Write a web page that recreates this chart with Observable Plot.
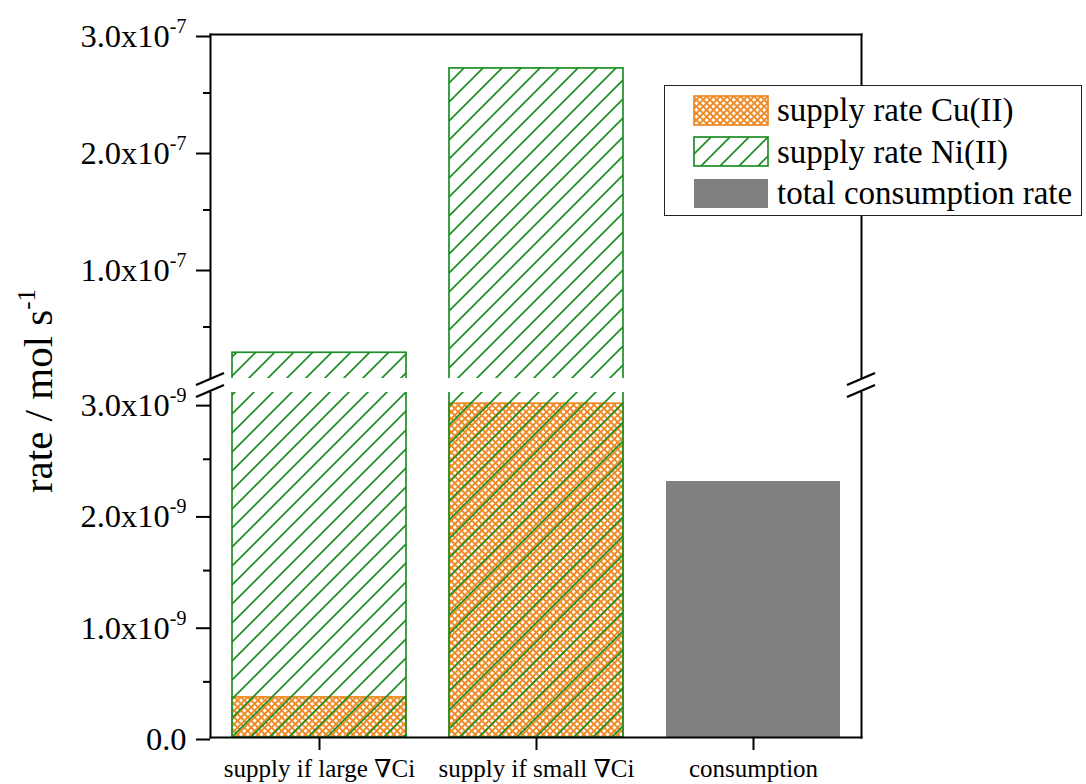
<!DOCTYPE html>
<html>
<head>
<meta charset="utf-8">
<script src="https://cdn.jsdelivr.net/npm/d3@7"></script>
<script src="https://cdn.jsdelivr.net/npm/@observablehq/plot@0.6"></script>
<style>
  html, body { margin: 0; padding: 0; background: #fff; }
  #chart { position: relative; width: 1086px; height: 784px; overflow: hidden;
           font-family: "Liberation Serif", "DejaVu Serif", "Times New Roman", serif; color: #000; }
  #chart > svg { position: absolute; left: 0; }
  #chart svg text { font-family: "Liberation Serif", "DejaVu Serif", "Times New Roman", serif; }
  #legend { position: absolute; left: 664px; top: 85px; width: 416px; height: 129px;
            border: 1.5px solid #222; background: #fff; z-index: 5; }
  .lrow { position: absolute; left: 28px; height: 30px; display: flex; align-items: center; }
  .lrow svg { display: block; }
  .lrow span { margin-left: 8px; font-size: 33px; line-height: 30px; white-space: nowrap; }
  #ylabel { position: absolute; left: 59px; top: 391px; width: 0; height: 0; z-index: 4; }
  #ylabel div { position: absolute; left: 0; top: 0; transform-origin: 0 0;
                transform: rotate(-90deg) translate(-50%, -100%); white-space: nowrap;
                font-size: 41px; line-height: 1; }
  #ylabel sup { font-size: 25px; vertical-align: 0; position: relative; top: -17px; }
</style>
</head>
<body>
<div id="chart"></div>
<script>
// ---------------- data ----------------
const categories = ["supply if large \u2207Ci", "supply if small \u2207Ci", "consumption"];
const cuSupply    = [3.6e-10, 3.0e-9, null];   // supply rate Cu(II)
const niSupply    = [2.8e-8, 2.71e-7, null];   // supply rate Ni(II)
const consumption = [null, null, 2.3e-9];      // total consumption rate
const seriesNames = ["supply rate Cu(II)", "supply rate Ni(II)", "total consumption rate"];
const lowerTicks = [0, 1e-9, 2e-9, 3e-9];
const lowerMinorTicks = [0.5e-9, 1.5e-9, 2.5e-9];
const upperTicks = [1e-7, 2e-7, 3e-7];
const upperMinorTicks = [0.5e-7, 1.5e-7, 2.5e-7];
const lowerDomain = [0, 3.1e-9];
const upperDomain = [6e-9, 3.0e-7];
const yLabel = "rate / mol s";
const yLabelExp = "-1";

// ---------------- styles ----------------
const orange = "#EE8A24";
const green = "#1E8E26";
const grey = "#808080";
const W = 1086, marginLeft = 210, marginRight = 225;
const serif = "Liberation Serif, DejaVu Serif, Times New Roman, serif";
const NS = "http://www.w3.org/2000/svg";

const chart = document.getElementById("chart");

// pattern definitions (shared by all SVGs in the document)
const defsSvg = document.createElementNS(NS, "svg");
defsSvg.setAttribute("width", 0); defsSvg.setAttribute("height", 0);
defsSvg.style.position = "absolute";
defsSvg.innerHTML = `
<defs>
  <pattern id="hatchNi" patternUnits="userSpaceOnUse" width="19" height="19">
    <path d="M-3,3 L3,-3 M0,19 L19,0 M16,22 L22,16" stroke="${green}" stroke-width="1.7" fill="none"/>
  </pattern>
  <pattern id="hatchCu" patternUnits="userSpaceOnUse" width="4.8" height="4.8" patternTransform="rotate(45)">
    <rect x="0" y="0" width="4.8" height="1.9" fill="${orange}"/>
    <rect x="0" y="0" width="1.9" height="4.8" fill="${orange}"/>
  </pattern>
</defs>`;
chart.appendChild(defsSvg);

const table = categories.map((c, i) => ({category: c, cu: cuSupply[i], ni: niSupply[i], total: consumption[i]}));
const xOpts = {domain: categories, paddingInner: 0.2, paddingOuter: 0.1};

function superscripts(svg, size, shift) {
  svg.querySelectorAll("text").forEach(t => {
    const s = t.textContent;
    if (s.includes("^")) {
      const [base, exp] = s.split("^");
      t.textContent = base;
      const ts = document.createElementNS(NS, "tspan");
      ts.setAttribute("dy", shift);
      ts.setAttribute("font-size", size);
      ts.textContent = exp;
      t.appendChild(ts);
    }
  });
}

const fmtLower = d => d === 0 ? "0.0" : (d / 1e-9).toFixed(1) + "x10^-9";
const fmtUpper = d => (d / 1e-7).toFixed(1) + "x10^-7";

// ---------------- upper panel ----------------
const upper = Plot.plot({
  width: W, height: 390,
  marginTop: 34, marginBottom: 12, marginLeft, marginRight,
  style: {fontFamily: serif, background: "transparent", color: "#000", overflow: "visible"},
  x: {...xOpts, axis: null},
  y: {domain: upperDomain, axis: null},
  marks: [
    Plot.barY(table.filter(d => d.ni != null), {x: "category", y: "ni", fill: "url(#hatchNi)", stroke: green, strokeWidth: 1.7, clip: true}),
    Plot.axisY(upperTicks, {tickSize: 14, tickPadding: 10, tickFormat: fmtUpper, fontSize: 32.5, strokeWidth: 2, dy: 2, label: null}),
    Plot.axisY(upperMinorTicks, {tickSize: 7, tickFormat: () => "", strokeWidth: 2, label: null}),
    Plot.frame({anchor: "left", strokeWidth: 2}),
    Plot.frame({anchor: "right", strokeWidth: 2}),
    Plot.frame({anchor: "top", strokeWidth: 2})
  ]
});
upper.style.top = "0px";
superscripts(upper, 20, -14);
chart.appendChild(upper);

// ---------------- lower panel ----------------
const lowerTop = 380;
const lower = Plot.plot({
  width: W, height: 404,
  marginTop: 12, marginBottom: 47, marginLeft, marginRight,
  style: {fontFamily: serif, background: "transparent", color: "#000", overflow: "visible"},
  x: {...xOpts, label: null},
  y: {domain: lowerDomain, axis: null},
  marks: [
    Plot.barY(table.filter(d => d.cu != null), {x: "category", y: "cu", fill: "url(#hatchCu)", stroke: orange, strokeWidth: 1.7, clip: true}),
    Plot.barY(table.filter(d => d.ni != null), {x: "category", y: "ni", fill: "url(#hatchNi)", stroke: green, strokeWidth: 1.7, clip: true}),
    Plot.barY(table.filter(d => d.total != null), {x: "category", y: "total", fill: grey}),
    Plot.axisY(lowerTicks, {tickSize: 14, tickPadding: 10, tickFormat: fmtLower, fontSize: 32.5, strokeWidth: 2, dy: 2, label: null}),
    Plot.axisY(lowerMinorTicks, {tickSize: 7, tickFormat: () => "", strokeWidth: 2, label: null}),
    Plot.axisX({tickSize: 13, tickPadding: 9, fontSize: 25, strokeWidth: 2, label: null}),
    Plot.frame({anchor: "left", strokeWidth: 2}),
    Plot.frame({anchor: "right", strokeWidth: 2}),
    Plot.frame({anchor: "bottom", strokeWidth: 2})
  ]
});
lower.style.top = lowerTop + "px";
superscripts(lower, 20, -14);
chart.appendChild(lower);

// ---------------- overlay: axis breaks ----------------
const upY = upper.scale("y").apply(upperDomain[0]);            // bottom edge of upper panel
const loY = lowerTop + lower.scale("y").apply(lowerDomain[1]); // top edge of lower panel
const xL = upper.scale("x").range[0], xR = upper.scale("x").range[1];
const ov = document.createElementNS(NS, "svg");
ov.setAttribute("width", W); ov.setAttribute("height", 784);
ov.style.top = "0px"; ov.style.zIndex = 3; ov.style.pointerEvents = "none";
let g = "";
for (const x0 of [xL, xR]) {
  g += `<rect x="${x0 - 6}" y="${upY}" width="12" height="${loY - upY}" fill="#fff"/>`;
  for (const yc of [upY + 1, loY - 1]) {
    g += `<line x1="${x0 - 14}" y1="${yc + 6}" x2="${x0 + 14}" y2="${yc - 6}" stroke="#000" stroke-width="2.4"/>`;
  }
}
ov.innerHTML = g;
chart.appendChild(ov);

// ---------------- y label (HTML, rotated) ----------------
const yl = document.createElement("div");
yl.id = "ylabel";
const ylInner = document.createElement("div");
ylInner.append(yLabel);
const sup = document.createElement("sup");
sup.textContent = yLabelExp;
ylInner.appendChild(sup);
yl.appendChild(ylInner);
chart.appendChild(yl);

// ---------------- legend ----------------
const legend = document.createElement("div");
legend.id = "legend";
const swatchFill = ["url(#hatchCu)", "url(#hatchNi)", grey];
const swatchStroke = [orange, green, "none"];
seriesNames.forEach((name, i) => {
  const row = document.createElement("div");
  row.className = "lrow";
  row.style.top = (9 + i * 41.5) + "px";
  row.innerHTML = `<svg width="76" height="31"><rect x="1" y="1" width="74" height="29" fill="${swatchFill[i]}" stroke="${swatchStroke[i]}" stroke-width="1.7"/></svg><span>${name}</span>`;
  legend.appendChild(row);
});
chart.appendChild(legend);
</script>
</body>
</html>
